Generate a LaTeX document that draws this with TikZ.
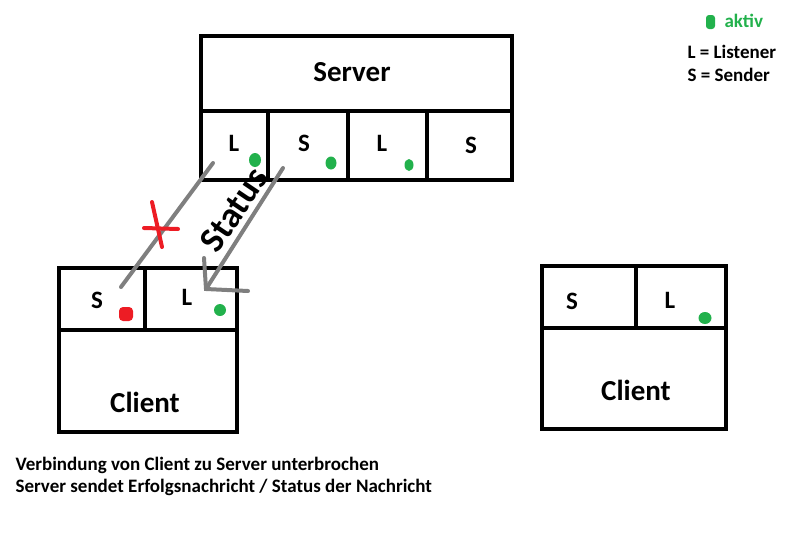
\documentclass[tikz,border=0pt]{standalone}
\usepackage{fontspec}
\setmainfont{Carlito}
\usetikzlibrary{positioning,calc}
\definecolor{paintgreen}{HTML}{22B14C}
\definecolor{paintred}{HTML}{ED1C24}
\definecolor{paintgray}{HTML}{7F7F7F}
\tikzset{
  cell/.style={draw, line width=4pt, inner sep=0pt},
  bigtxt/.style={font=\fontsize{29}{32}\selectfont\bfseries},
  celltxt/.style={font=\fontsize{25}{28}\selectfont\bfseries},
  smalltxt/.style={font=\fontsize{19}{22}\selectfont\bfseries, anchor=west},
  wire/.style={paintgray, line width=4pt, line cap=round},
}
\begin{document}
\begin{tikzpicture}[x=1pt, y=-1pt]
		\useasboundingbox (0,0) rectangle (793,547);
		% Server
		\node[cell, minimum width=311pt, minimum height=75pt] (srv) at (356.5,73.5) {};
		\node[cell, minimum width=67pt, minimum height=69pt] (srvL1) at (234.5,145.5) {};
		\node[cell, minimum width=80pt, minimum height=69pt] (srvS1) at (308,145.5) {};
		\node[cell, minimum width=79pt, minimum height=69pt] (srvL2) at (387.5,145.5) {};
		\node[cell, minimum width=85pt, minimum height=69pt] (srvS2) at (469.5,145.5) {};
		\node[bigtxt] (srvT) at (352,72) {Server};
		\node[celltxt] at (234,143) {L};
		\node[celltxt] at (304,143) {S};
		\node[celltxt] at (382,143) {L};
		\node[celltxt] at (471,145) {S};
		% Client links
		\node[cell, minimum width=86pt, minimum height=62pt] (cl1S) at (102,299) {};
		\node[cell, minimum width=92pt, minimum height=62pt] (cl1L) at (191,299) {};
		\node[cell, minimum width=178pt, minimum height=102pt] (cl1) at (148,381) {};
		\node[celltxt] at (97,300) {S};
		\node[celltxt] at (187,297) {L};
		\node[bigtxt] at (145,402) {Client};
		% Client rechts
		\node[cell, minimum width=94pt, minimum height=62pt] (cl2S) at (589,297) {};
		\node[cell, minimum width=90pt, minimum height=62pt] (cl2L) at (681,297) {};
		\node[cell, minimum width=184pt, minimum height=101pt] (cl2) at (634,378.5) {};
		\node[celltxt] at (572,301) {S};
		\node[celltxt] at (670,300) {L};
		\node[bigtxt] at (636,390) {Client};
		% aktiv / inaktiv
		\fill[paintgreen] (255,160) ellipse (6pt and 7pt);
		\fill[paintgreen] (331,163) ellipse (5.5pt and 6.5pt);
		\fill[paintgreen] (409,165) ellipse (4.5pt and 6pt);
		\fill[paintgreen] (220,310) ellipse (6pt and 6pt);
		\fill[paintgreen] (705,318) ellipse (6.5pt and 6pt);
		\fill[paintred, rounded corners=4pt] (119,307) rectangle (133,321);
		% Verbindungen
		\coordinate (A) at (213,163);
		\coordinate (B) at (121,287);
		\coordinate (C) at (283,168);
		\coordinate (D) at (206,289);
		\draw[wire] (A) -- (B);
		\draw[wire] (C) -- (D);
		\draw[wire] (204,258) -- (D) -- (248,291);
		\draw[paintred, line width=4pt, line cap=round] (152,202) -- (162,247);
		\draw[paintred, line width=4pt, line cap=round] (144,228) -- (178,229);
		\node[font=\fontsize{36}{36}\selectfont\bfseries, rotate=56] at (234,210) {Status};
		% Legende
		\fill[paintgreen, rounded corners=3pt] (706,15) rectangle (715,29);
		\node[font=\fontsize{19}{22}\selectfont\bfseries, text=paintgreen, anchor=west] at (721,21) {aktiv};
		\node[smalltxt] at (684,52) {L = Listener};
		\node[smalltxt] at (684,75) {S = Sender};
		\node[smalltxt] at (12,465) {Verbindung von Client zu Server unterbrochen};
		\node[smalltxt] at (12,487) {Server sendet Erfolgsnachricht / Status der Nachricht};
	\end{tikzpicture}
\end{document}
